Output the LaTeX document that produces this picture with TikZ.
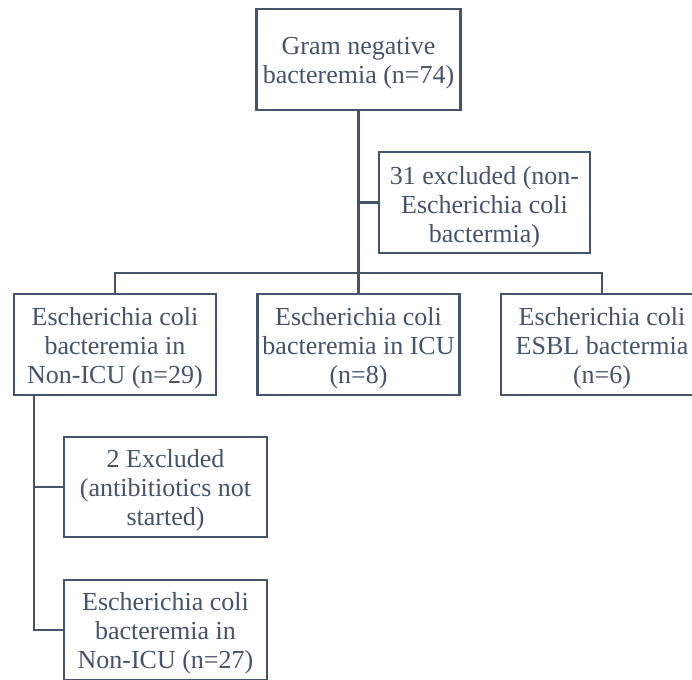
\documentclass[tikz,border=0pt]{standalone}
\usepackage{fontspec}
\setmainfont{Liberation Serif}
\definecolor{slate}{HTML}{44546A}
\begin{document}
\begin{tikzpicture}[x=1pt,y=-1pt,
  box/.style={draw=slate, line width=2.8pt, fill=white, inner sep=0pt},
  txt/.style={text=slate, align=center, inner sep=0pt, font=\fontsize{26}{29}\selectfont},
  conn/.style={draw=slate, line width=2.8pt}]
\useasboundingbox (0,0) rectangle (692,679);
\node[box, minimum width=204, minimum height=101] (top) at (358.5,59.5) {};
\node[box, minimum width=211, minimum height=101] (excl) at (484.5,202.5) {};
\node[box, minimum width=202, minimum height=101] (left) at (115,344.5) {};
\node[box, minimum width=202, minimum height=101] (mid) at (358.5,344.5) {};
\node[box, minimum width=202, minimum height=101] (right) at (602,344.5) {};
\node[box, minimum width=203, minimum height=100] (ex2) at (165.5,487) {};
\node[box, minimum width=203, minimum height=100] (bot) at (165.5,630) {};
\node[txt] (ttop) at ([yshift=-4]top.center) {Gram negative\\bacteremia (n=74)};
\node[txt] (texcl) at ([yshift=-5]excl.center) {31 excluded (non-\\Escherichia coli\\bactermia)};
\node[txt] (tleft) at ([yshift=-3.5]left.center) {Escherichia coli\\bacteremia in\\Non-ICU (n=29)};
\node[txt] (tmid) at ([yshift=-3.5]mid.center) {Escherichia coli\\bacteremia in ICU\\(n=8)};
\node[txt] (tright) at ([yshift=-3.5]right.center) {Escherichia coli\\ESBL bactermia\\(n=6)};
\node[txt] (tex2) at ([yshift=-3.5]ex2.center) {2 Excluded\\(antibitiotics not\\started)};
\node[txt] (tbot) at ([yshift=-3.5]bot.center) {Escherichia coli\\bacteremia in\\Non-ICU (n=27)};
\coordinate (bar) at (358.5,273);
\coordinate (lt) at (34,395);
\draw[conn] (top.south) -- (mid.north);
\draw[conn] (top.south |- excl.west) -- (excl.west);
\draw[conn] (left.north) |- (bar) -| (right.north);
\draw[conn] (lt) |- (ex2.west);
\draw[conn] (lt) |- (bot.west);
\end{tikzpicture}
\end{document}
